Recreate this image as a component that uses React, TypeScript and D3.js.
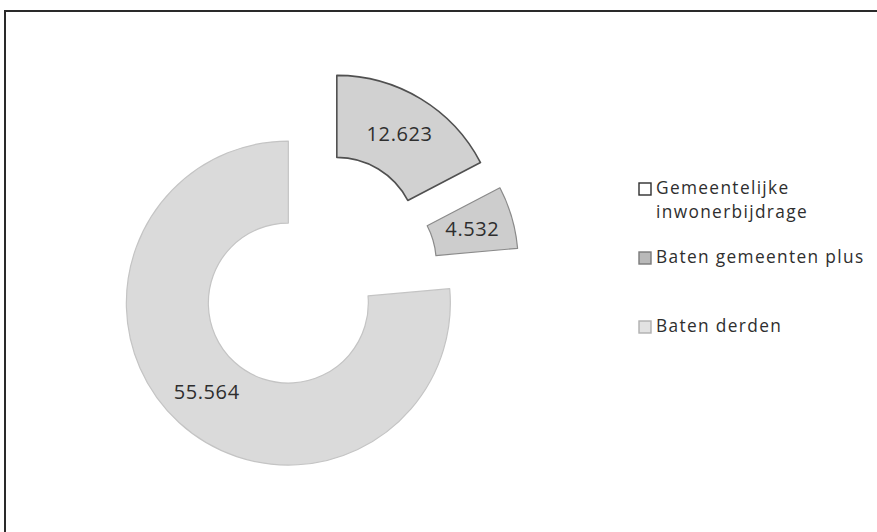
import React from "react";
import * as d3 from "d3";

const categories = ["Gemeentelijke inwonerbijdrage", "Baten gemeenten plus", "Baten derden"];
const legendLines = [["Gemeentelijke", "inwonerbijdrage"], ["Baten gemeenten plus"], ["Baten derden"]];
const values = [12623, 4532, 55564];
const valueLabels = ["12.623", "4.532", "55.564"];

const sliceFill = ["#d1d1d1", "#cdcdcd", "#dadada"];
const sliceStroke = ["#505050", "#8a8a8a", "#c4c4c4"];
const markerFill = ["#ffffff", "#b9b9b9", "#e2e2e2"];
const markerStroke = ["#2e2e2e", "#7a7a7a", "#b0b0b0"];
const explode = [44, 44, 38];

const W = 877;
const H = 532;
const cx = 314;
const cy = 275;
const inner = 80;
const outer = 162;

export default function App() {
  const pie = d3.pie<number>().sort(null).value((d) => d).startAngle(0).endAngle(2 * Math.PI);
  const arcs = pie(values);
  const arc = d3.arc<d3.PieArcDatum<number>>().innerRadius(inner).outerRadius(outer);

  const legendX = 639;
  const legendTop = 183;
  const legendStep = 69;

  return (
    <svg
      width={W}
      height={H}
      viewBox={`0 0 ${W} ${H}`}
      style={{ position: "absolute", left: 0, top: 0, background: "#fff" }}
    >
      <rect x={0} y={0} width={W} height={H} fill="#fff" />
      <path d={`M5,${H} V11 H${W}`} fill="none" stroke="#2a2a2a" strokeWidth={2} />
      <g transform={`translate(${cx},${cy})`}>
        {arcs.map((a, i) => {
          const mid = (a.startAngle + a.endAngle) / 2;
          const dx = Math.sin(mid) * explode[i];
          const dy = -Math.cos(mid) * explode[i];
          const [lx, ly] = arc.centroid(a);
          return (
            <g key={categories[i]} transform={`translate(${dx},${dy})`}>
              <path
                d={arc(a) || ""}
                fill={sliceFill[i]}
                stroke={sliceStroke[i]}
                strokeWidth={i === 0 ? 1.6 : 1.2}
                strokeLinejoin="round"
              />
              <text
                x={lx}
                y={ly}
                dy="0.36em"
                textAnchor="middle"
                fontFamily="'Open Sans', sans-serif"
                fontSize={20}
                letterSpacing={0.6}
                fill="#2e2e2e"
              >
                {valueLabels[i]}
              </text>
            </g>
          );
        })}
      </g>
      <g>
        {categories.map((c, i) => {
          const top = legendTop + i * legendStep;
          return (
            <g key={c}>
              <rect
                x={legendX}
                y={top}
                width={12}
                height={12}
                fill={markerFill[i]}
                stroke={markerStroke[i]}
                strokeWidth={1.4}
              />
              {legendLines[i].map((line, j) => (
                <text
                  key={line}
                  x={legendX + 17}
                  y={top + 11 + j * 24}
                  fontFamily="'Open Sans', sans-serif"
                  fontSize={17.3}
                  letterSpacing={1.35}
                  fill="#2e2e2e"
                >
                  {line}
                </text>
              ))}
            </g>
          );
        })}
      </g>
    </svg>
  );
}
